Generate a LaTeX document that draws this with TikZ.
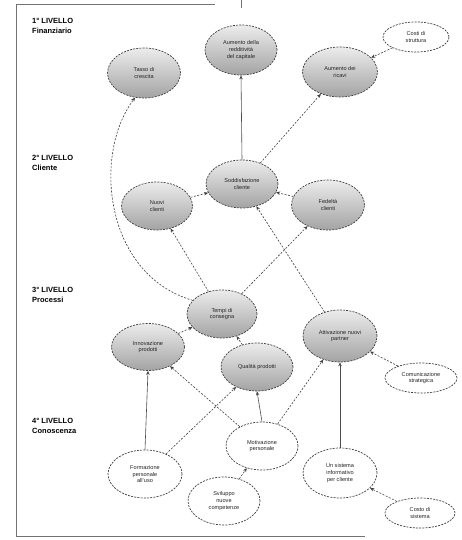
\documentclass[tikz,border=0pt]{standalone}
\usepackage{fontspec}
\setmainfont{Liberation Sans}
\usetikzlibrary{shapes.geometric,arrows.meta}
\begin{document}
\begin{tikzpicture}[x=1pt,y=-1pt,
  ell/.style={ellipse, draw=black!75, dash pattern=on 2pt off 1.2pt, line width=0.7pt, inner sep=0pt, align=center, font=\fontsize{5.6}{6.6}\selectfont, text=black!85},
  gr/.style={ell, top color=gray!15, bottom color=gray!72},
  wh/.style={ell, fill=white},
  lvl/.style={anchor=north west, align=left, font=\bfseries\fontsize{7.5}{10}\selectfont, inner sep=0pt},
  con/.style={draw=black!75, line width=0.6pt, dash pattern=on 2pt off 1.5pt, -{Stealth[length=4pt,width=3.5pt]}},
  sol/.style={draw=black!70, line width=0.6pt, -{Stealth[length=4pt,width=3.5pt]}},
]
\useasboundingbox (0,0) rectangle (462,540);
\fill[white] (0,0) rectangle (462,540);
% frame
\draw[black!55, line width=0.8pt] (215,4) -- (16,4) -- (16,536) -- (365,536);
\draw[black!55, line width=0.8pt] (241,0) -- (241,8);
% level labels
\node[lvl] (l1) at (32,18) {1° LIVELLO\\Finanziario};
\node[lvl] (l2) at (32,155) {2° LIVELLO\\Cliente};
\node[lvl] (l3) at (32,287) {3° LIVELLO\\Processi};
\node[lvl] (l4) at (32,418) {4° LIVELLO\\Conoscenza};
% level 1
\node[gr, minimum width=73pt, minimum height=50pt] (A) at (144,73) {Tasso di\\crescita};
\node[gr, minimum width=72pt, minimum height=50pt] (B) at (241,50) {Aumento della\\redditività\\del capitale};
\node[gr, minimum width=75pt, minimum height=50pt] (C) at (340,72) {Aumento dei\\ricavi};
\node[wh, minimum width=66pt, minimum height=30pt] (D) at (416,37) {Costi di\\struttura};
% level 2
\node[gr, minimum width=72pt, minimum height=48pt] (E) at (242,184) {Soddisfazione\\cliente};
\node[gr, minimum width=71pt, minimum height=48pt] (F) at (157,206) {Nuovi\\clienti};
\node[gr, minimum width=73pt, minimum height=50pt] (G) at (328,205) {Fedeltà\\clienti};
% level 3
\node[gr, minimum width=70pt, minimum height=48pt] (H) at (222,314) {Tempi di\\consegna};
\node[gr, minimum width=73pt, minimum height=47pt] (I) at (148,347) {Innovazione\\prodotti};
\node[gr, minimum width=72pt, minimum height=48pt] (J) at (257,367) {Qualità prodotti};
\node[gr, minimum width=74pt, minimum height=52pt] (K) at (340,336) {Attivazione nuovi\\partner};
\node[wh, minimum width=72pt, minimum height=30pt] (L) at (421,378) {Comunicazione\\strategica};
% level 4
\node[wh, minimum width=74pt, minimum height=48pt] (M) at (145,474) {Formazione\\personale\\all'uso};
\node[wh, minimum width=72pt, minimum height=48pt] (N) at (262,446) {Motivazione\\personale};
\node[wh, minimum width=72pt, minimum height=48pt] (O) at (224,501) {Sviluppo\\nuove\\competenze};
\node[wh, minimum width=74pt, minimum height=50pt] (P) at (340,473) {Un sistema\\informativo\\per cliente};
\node[wh, minimum width=70pt, minimum height=30pt] (Q) at (420,513) {Costo di\\sistema};
% connectors
\draw[con] (H.155) .. controls (105,275) and (92,155) .. (A.250);
\draw[sol] (E.north) -- (B.south);
\draw[con] (E) -- (C);
\draw[con] (D) -- (C);
\draw[con] (F) -- (E);
\draw[con] (G) -- (E);
\draw[con] (H) -- (F);
\draw[con] (H) -- (G);
\draw[con] (K) -- (E);
\draw[con] (I) -- (H);
\draw[con] (J) -- (H);
\draw[con] (L) -- (K);
\draw[sol] (M.north) -- (I.south);
\draw[con] (N) -- (I);
\draw[con] (M) -- (J);
\draw[sol] (N.north) -- (J.south);
\draw[con] (N) -- (K);
\draw[sol] (P.north) -- (K.south);
\draw[con] (O) -- (N);
\draw[con] (Q) -- (P);
\end{tikzpicture}
\end{document}
